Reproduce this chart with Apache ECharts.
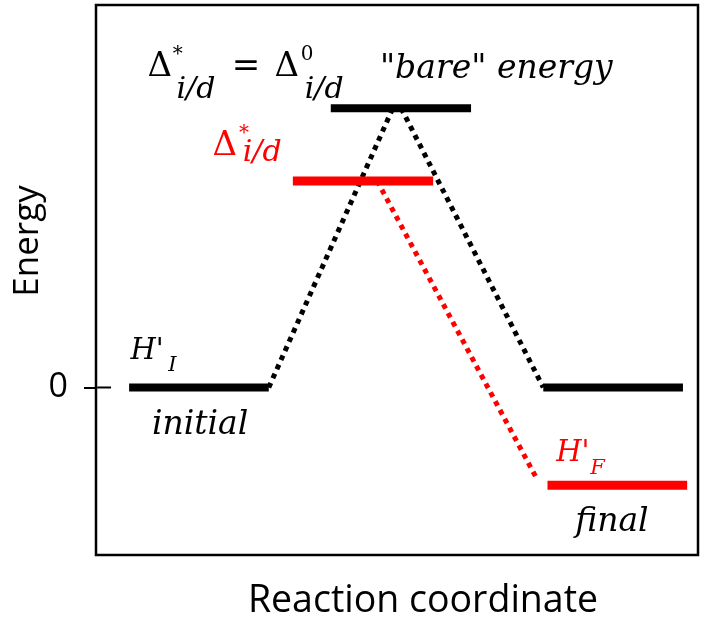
<!DOCTYPE html>
<html>
<head>
<meta charset="utf-8">
<script src="https://cdn.jsdelivr.net/npm/echarts@6/dist/echarts.min.js"></script>
<style>
  html, body { margin: 0; padding: 0; background: #fff; }
  #chart { width: 710px; height: 620px; }
</style>
</head>
<body>
<div id="chart"></div>
<script>
// energy levels: [xStart, xEnd, energy]
const blackLevels = [[5.5, 28.7, 0], [39, 62.3, 10], [74.3, 97.5, 0]]
const redLevels = [[32.7, 56, 7.4], [75, 98.2, -3.5]]
// dotted transition paths
const blackPaths = [[[28.7, 0], [49.3, 10]], [[50.7, 10], [74.3, 0]]]
const redPaths = [[[46.7, 7.4], [73.3, -3.3]]]
const yTicks = [0]
// text notes: [x, y, text, kind]
const blackNotes = [
  [10.6, 11.46, 'Δ', 'big'],
  [13.6, 11.9, '*', 'sup'],
  [16.6, 10.64, 'i/d', 'sub'],
  [24.9, 11.48, '=', 'big'],
  [31.7, 11.46, 'Δ', 'big'],
  [35.05, 11.93, '0', 'sup'],
  [37.9, 10.64, 'i/d', 'sub'],
  [66.5, 11.4, '"bare" energy', 'word'],
  [8.5, 1.29, "H'", 'h'],
  [12.7, 0.77, 'I', 'hsub'],
  [17.3, -1.36, 'initial', 'word'],
  [85.7, -4.83, 'final', 'word']
]
const redNotes = [
  [21.4, 8.63, 'Δ', 'big'],
  [24.6, 9.1, '*', 'sup'],
  [27.6, 8.38, 'i/d', 'sub'],
  [79.2, -2.36, "H'", 'h'],
  [83.3, -2.92, 'F', 'hsub']
]

const serif = 'DejaVu Serif'
const sans = 'Open Sans'
const kinds = {
  big: { fontFamily: serif, fontSize: 34 },
  sup: { fontFamily: serif, fontSize: 20 },
  sub: { fontFamily: serif, fontStyle: 'italic', fontSize: 30 },
  word: { fontFamily: serif, fontStyle: 'italic', fontSize: 33 },
  h: { fontFamily: serif, fontStyle: 'italic', fontSize: 29 },
  hsub: { fontFamily: serif, fontStyle: 'italic', fontSize: 21 }
}

const segSeries = (segs, color, width, dotted) => segs.map(s => ({
  type: 'line',
  data: s,
  symbol: 'none',
  silent: true,
  clip: false,
  lineStyle: { color: color, width: width, type: dotted ? [5, 5] : 'solid', cap: 'butt' }
}))
const levelSeries = (levels, color, width) =>
  segSeries(levels.map(l => [[l[0], l[2]], [l[1], l[2]]]), color, width, false)
// inner part of the y ticks (the axis draws the outer part)
const innerTicks = segSeries(yTicks.map(v => [[0.2, v], [2.5, v]]), '#000', 2, false)
const noteSeries = (notes, color) => ({
  type: 'scatter',
  symbolSize: 1,
  silent: true,
  itemStyle: { color: 'rgba(0,0,0,0)', opacity: 1 },
  data: notes.map(n => ({
    value: [n[0], n[1]],
    label: Object.assign({
      show: true,
      position: 'inside',
      formatter: n[2],
      color: color,
      align: 'center',
      verticalAlign: 'middle'
    }, kinds[n[3]])
  }))
})

const chart = echarts.init(document.getElementById('chart'))
chart.setOption({
  animation: false,
  grid: {
    left: 96, right: 12, top: 5, bottom: 65,
    outerBoundsMode: 'none',
    containLabel: false,
    show: true, borderColor: '#000', borderWidth: 2.5
  },
  xAxis: {
    type: 'value', min: 0, max: 100,
    name: 'Reaction coordinate',
    nameLocation: 'middle',
    nameGap: 27,
    nameTextStyle: { fontFamily: sans, fontSize: 37.5, color: '#000', padding: [0, 0, 0, 52] },
    axisLine: { show: false }, axisTick: { show: false },
    axisLabel: { show: false }, splitLine: { show: false }
  },
  yAxis: {
    type: 'value', min: -6, max: 13.7,
    name: 'Energy',
    nameLocation: 'middle',
    nameGap: 50,
    nameMoveOverlap: false,
    nameTextStyle: { fontFamily: sans, fontSize: 35, color: '#000', padding: [0, 0, 0, 78] },
    axisLine: { show: false },
    axisTick: { show: true, length: 12, customValues: yTicks, lineStyle: { color: '#000', width: 2 } },
    axisLabel: { customValues: yTicks, margin: 28, fontFamily: sans, fontSize: 34, color: '#000' },
    splitLine: { show: false }
  },
  series: [].concat(
    innerTicks,
    segSeries(blackPaths, '#000', 5, true),
    segSeries(redPaths, '#ff0000', 5, true),
    levelSeries(blackLevels, '#000', 8),
    levelSeries(redLevels, '#ff0000', 9),
    [noteSeries(blackNotes, '#000'), noteSeries(redNotes, '#ff0000')]
  )
})
</script>
</body>
</html>
